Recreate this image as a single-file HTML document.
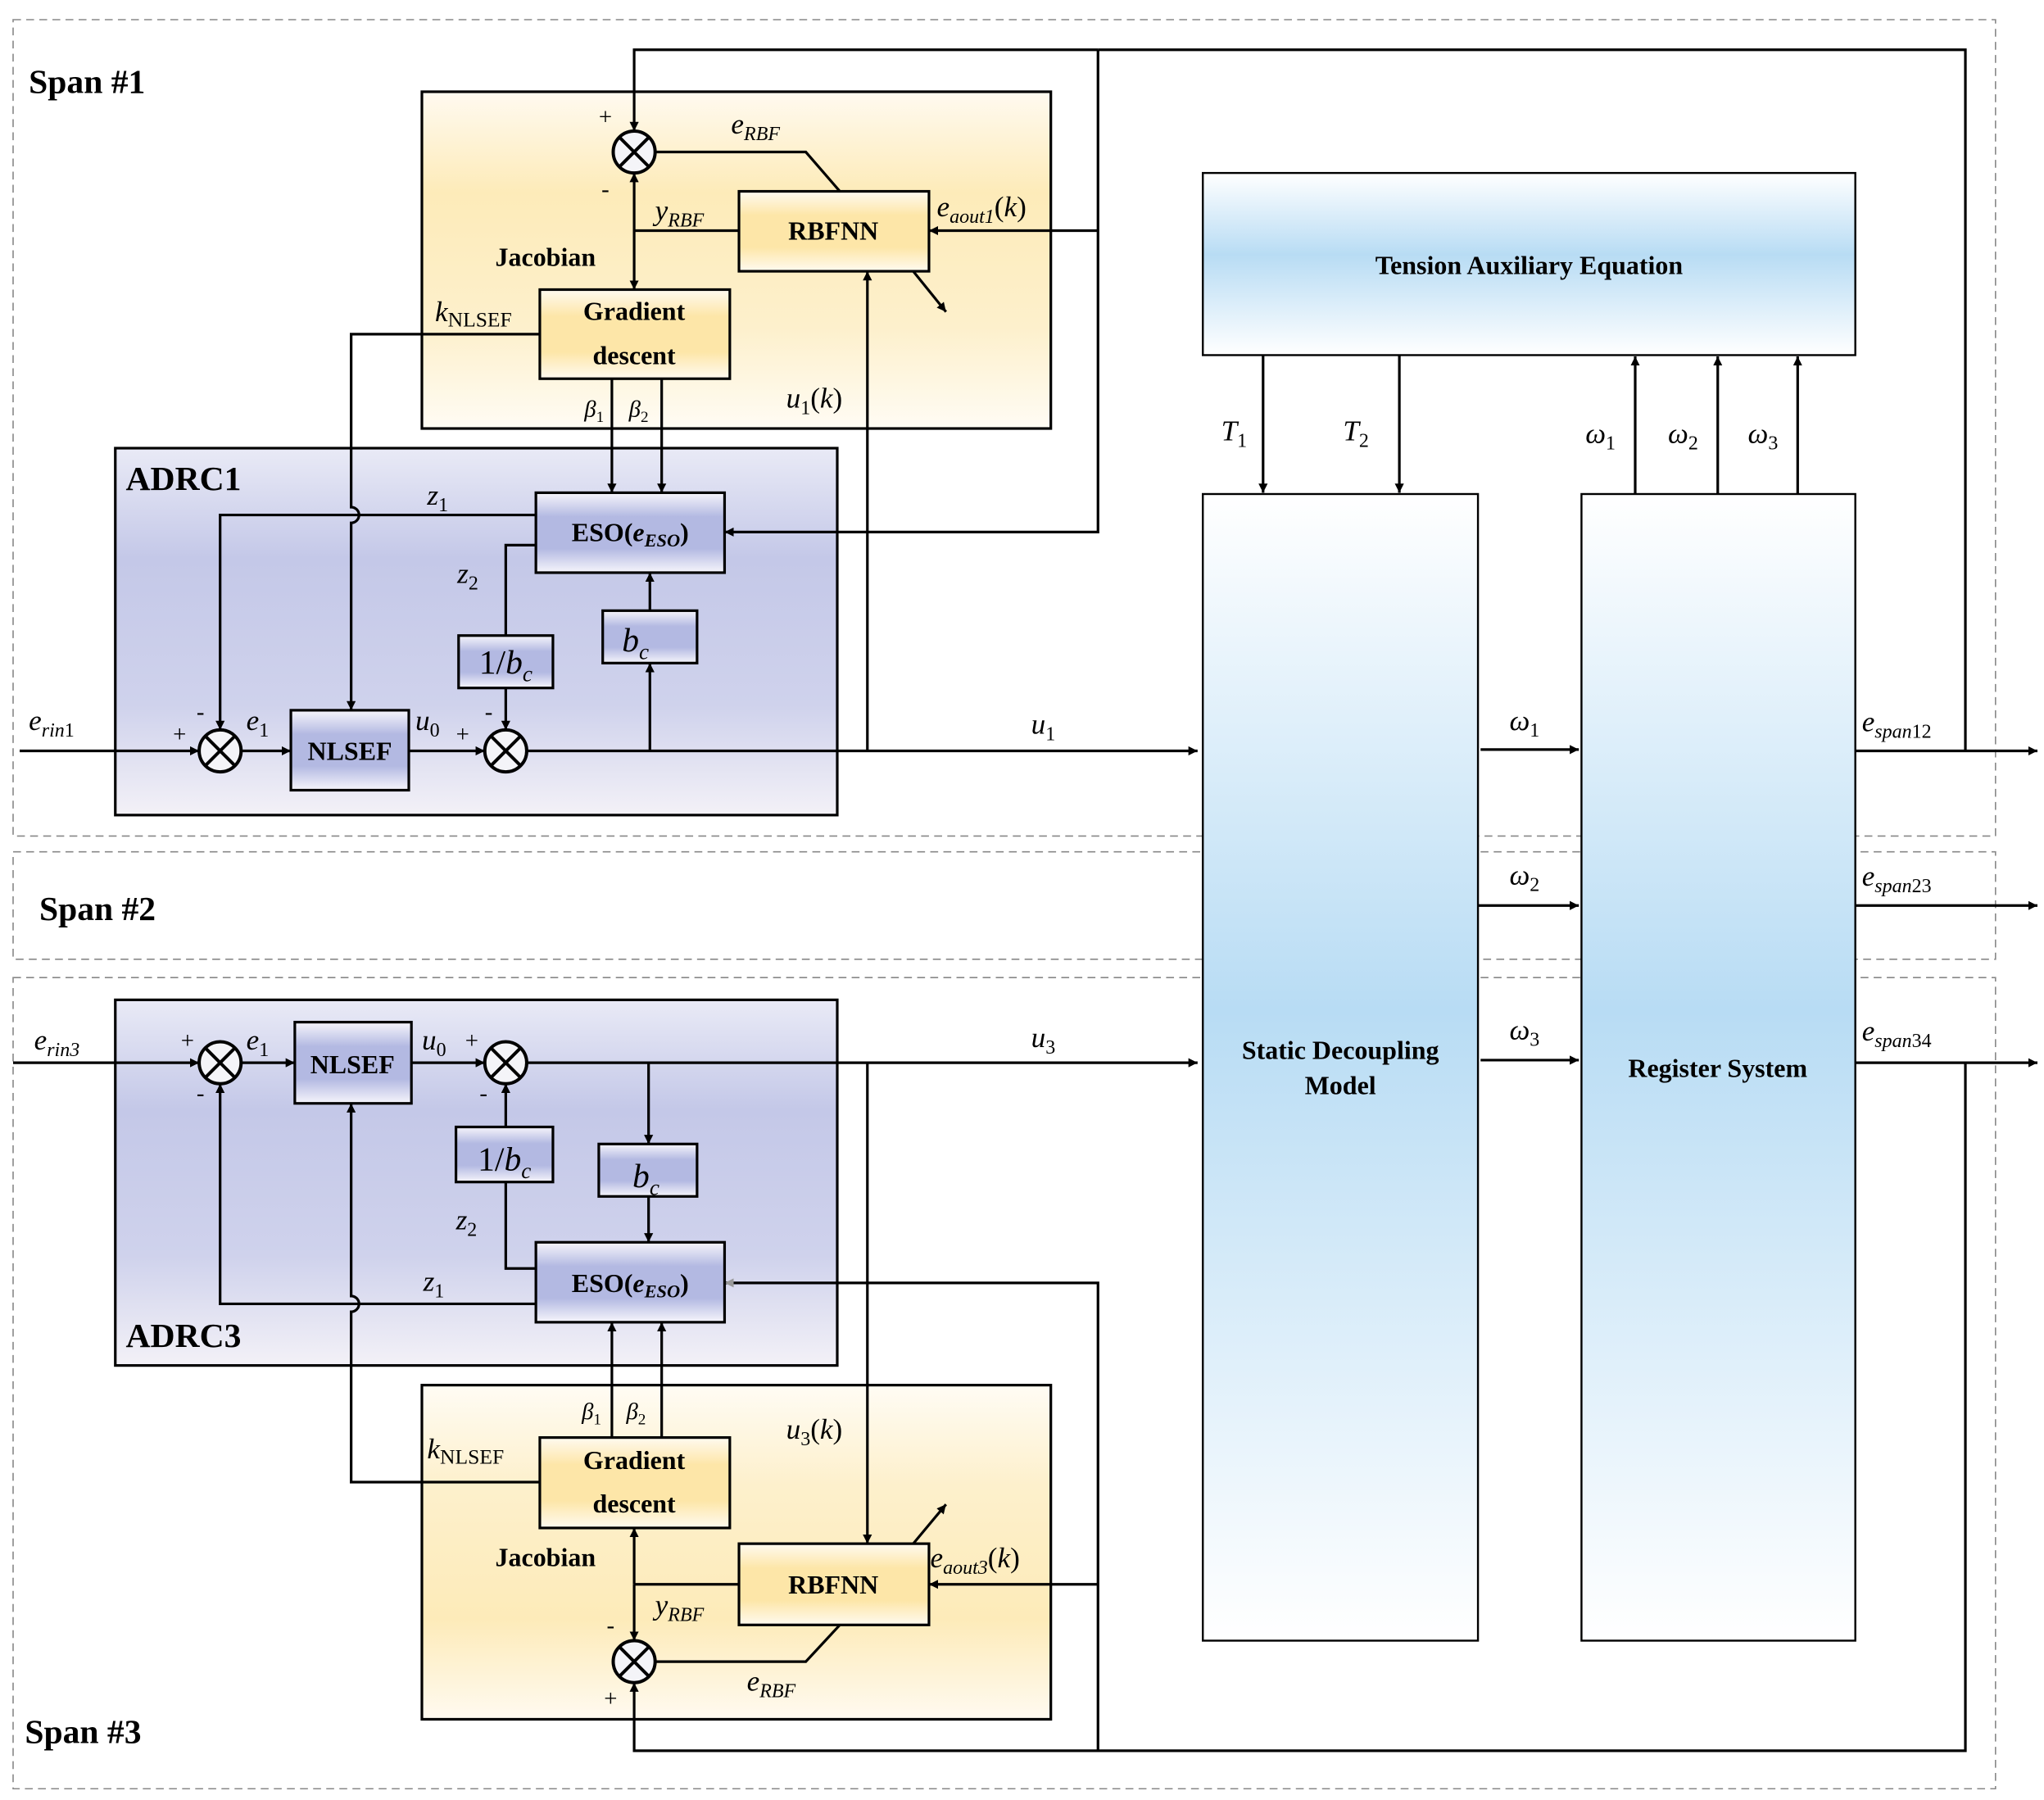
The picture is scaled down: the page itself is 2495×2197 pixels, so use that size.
<!DOCTYPE html>
<html><head><meta charset="utf-8"><style>
html,body{margin:0;padding:0;background:#fff}
svg{display:block}
text{font-family:"Liberation Serif",serif;fill:#000}
.b{font-weight:bold}
.i{font-style:italic}
</style></head><body>
<svg width="2495" height="2197" viewBox="0 0 1560 1373.6" preserveAspectRatio="none" xmlns="http://www.w3.org/2000/svg">
<defs>
<marker id="a" viewBox="0 0 10 10" refX="10" refY="5" markerWidth="7" markerHeight="7" orient="auto" markerUnits="userSpaceOnUse"><path d="M0,0L10,5L0,10z" fill="#000"/></marker>
<marker id="ag" viewBox="0 0 10 10" refX="10" refY="5" markerWidth="7" markerHeight="7" orient="auto" markerUnits="userSpaceOnUse"><path d="M0,0L10,5L0,10z" fill="#999"/></marker>
<linearGradient id="y1" x1="0" y1="0" x2="0" y2="1"><stop offset="0" stop-color="#fffaf0"/><stop offset="0.3" stop-color="#fdebb9"/><stop offset="0.7" stop-color="#fdf0cc"/><stop offset="1" stop-color="#fffcf4"/></linearGradient>
<linearGradient id="y2" x1="0" y1="1" x2="0" y2="0"><stop offset="0" stop-color="#fffaf0"/><stop offset="0.3" stop-color="#fdebb9"/><stop offset="0.7" stop-color="#fdf0cc"/><stop offset="1" stop-color="#fffcf4"/></linearGradient>
<linearGradient id="p1" x1="0" y1="0" x2="0" y2="1"><stop offset="0" stop-color="#e9eaf6"/><stop offset="0.3" stop-color="#c4c8e8"/><stop offset="0.7" stop-color="#cfd2ec"/><stop offset="1" stop-color="#f3f1f7"/></linearGradient>
<linearGradient id="p2" x1="0" y1="1" x2="0" y2="0"><stop offset="0" stop-color="#e9eaf6"/><stop offset="0.3" stop-color="#c4c8e8"/><stop offset="0.7" stop-color="#cfd2ec"/><stop offset="1" stop-color="#f3f1f7"/></linearGradient>
<linearGradient id="bb" x1="0" y1="0" x2="0" y2="1"><stop offset="0" stop-color="#f6f5fb"/><stop offset="0.3" stop-color="#b3b9e2"/><stop offset="0.7" stop-color="#b3b9e2"/><stop offset="1" stop-color="#f6f5fb"/></linearGradient>
<linearGradient id="yb" x1="0" y1="0" x2="0" y2="1"><stop offset="0" stop-color="#fffaf0"/><stop offset="0.3" stop-color="#fde6a8"/><stop offset="0.7" stop-color="#fde6a8"/><stop offset="1" stop-color="#fffaf0"/></linearGradient>
<linearGradient id="t" x1="0" y1="0" x2="0" y2="1"><stop offset="0" stop-color="#fff"/><stop offset="0.45" stop-color="#b8dcf4"/><stop offset="1" stop-color="#fff"/></linearGradient>
<linearGradient id="s" x1="0" y1="0" x2="0" y2="1"><stop offset="0" stop-color="#fff"/><stop offset="0.45" stop-color="#b8dcf4"/><stop offset="1" stop-color="#fff"/></linearGradient>
</defs>

<!-- dashed span boxes -->
<g fill="none" stroke="#888" stroke-width="1" stroke-dasharray="6,4">
<rect x="10" y="15" width="1513" height="623"/>
<rect x="10" y="650" width="1513" height="82"/>
<rect x="10" y="746" width="1513" height="619"/>
</g>

<!-- big containers -->
<g stroke="#000" stroke-width="2">
<rect x="322" y="70" width="480" height="257" fill="url(#y1)"/>
<rect x="88" y="342" width="551" height="280" fill="url(#p1)"/>
<rect x="88" y="763" width="551" height="279" fill="url(#p1)"/>
<rect x="322" y="1057" width="480" height="255" fill="url(#y2)"/>
<rect x="918" y="132" width="498" height="139" fill="url(#t)" stroke-width="1.5"/>
<rect x="918" y="377" width="210" height="875" fill="url(#s)" stroke-width="1.5"/>
<rect x="1207" y="377" width="209" height="875" fill="url(#s)" stroke-width="1.5"/>
</g>

<!-- lines -->
<g fill="none" stroke="#000" stroke-width="2">
<!-- span1 -->
<path d="M15,573H152" marker-end="url(#a)"/>
<path d="M184,573H222" marker-end="url(#a)"/>
<path d="M312,573H370" marker-end="url(#a)"/>
<path d="M402,573H914" marker-end="url(#a)"/>
<path d="M496,573V506" marker-end="url(#a)"/>
<path d="M496,466V437" marker-end="url(#a)"/>
<path d="M662,573V207" marker-end="url(#a)"/>
<path d="M409,393H168V557" marker-end="url(#a)"/>
<path d="M409,416H386V485"/>
<path d="M386,525V557" marker-end="url(#a)"/>
<path d="M412,255H268V387a6,6 0 0 1 0,12V542" marker-end="url(#a)"/>
<path d="M467,289V376" marker-end="url(#a)"/>
<path d="M505,289V376" marker-end="url(#a)"/>
<path d="M838,38H484V100" marker-end="url(#a)"/>
<path d="M838,38H1500V573"/>
<path d="M838,38V406H553" marker-end="url(#a)"/>
<path d="M838,176H709" marker-end="url(#a)"/>
<path d="M564,176H484"/>
<path d="M484,176V132" marker-end="url(#a)"/>
<path d="M484,176V221" marker-end="url(#a)"/>
<path d="M500,116H615L641,146"/>
<path d="M697,207L722,238" marker-end="url(#a)"/>
<!-- right side -->
<path d="M1416,573H1555" marker-end="url(#a)"/>
<path d="M1416,691H1555" marker-end="url(#a)"/>
<path d="M1416,811H1555" marker-end="url(#a)"/>
<path d="M1130,572H1205" marker-end="url(#a)"/>
<path d="M1128,691H1205" marker-end="url(#a)"/>
<path d="M1130,809H1205" marker-end="url(#a)"/>
<path d="M964,271V376" marker-end="url(#a)"/>
<path d="M1068,271V376" marker-end="url(#a)"/>
<path d="M1248,377V272" marker-end="url(#a)"/>
<path d="M1311,377V272" marker-end="url(#a)"/>
<path d="M1372,377V272" marker-end="url(#a)"/>
<!-- span3 -->
<path d="M10,811H152" marker-end="url(#a)"/>
<path d="M184,811H225" marker-end="url(#a)"/>
<path d="M314,811H370" marker-end="url(#a)"/>
<path d="M402,811H914" marker-end="url(#a)"/>
<path d="M495,811V873" marker-end="url(#a)"/>
<path d="M495,913V948" marker-end="url(#a)"/>
<path d="M409,968H386V902"/>
<path d="M386,860V827" marker-end="url(#a)"/>
<path d="M409,995H168V827" marker-end="url(#a)"/>
<path d="M412,1131H268V1001a6,6 0 0 0 0,-12V842" marker-end="url(#a)"/>
<path d="M467,1097V1009" marker-end="url(#a)"/>
<path d="M505,1097V1009" marker-end="url(#a)"/>
<path d="M662,811V1178" marker-end="url(#a)"/>
<path d="M564,1209H484"/>
<path d="M484,1209V1166" marker-end="url(#a)"/>
<path d="M484,1209V1252" marker-end="url(#a)"/>
<path d="M500,1268H615L641,1240"/>
<path d="M697,1178L722,1148" marker-end="url(#a)"/>
<path d="M1500,811V1336H484V1284" marker-end="url(#a)"/>
<path d="M838,1336V979H553" marker-end="url(#ag)"/>
<path d="M838,1209H709" marker-end="url(#a)"/>
</g>

<!-- small boxes -->
<g stroke="#000" stroke-width="2">
<rect x="564" y="146" width="145" height="61" fill="url(#yb)"/>
<rect x="412" y="221" width="145" height="68" fill="url(#yb)"/>
<rect x="409" y="376" width="144" height="61" fill="url(#bb)"/>
<rect x="460" y="466" width="72" height="40" fill="url(#bb)"/>
<rect x="350" y="485" width="72" height="40" fill="url(#bb)"/>
<rect x="222" y="542" width="90" height="61" fill="url(#bb)"/>
<rect x="225" y="780" width="89" height="62" fill="url(#bb)"/>
<rect x="457" y="873" width="75" height="40" fill="url(#bb)"/>
<rect x="348" y="860" width="74" height="42" fill="url(#bb)"/>
<rect x="409" y="948" width="144" height="61" fill="url(#bb)"/>
<rect x="412" y="1097" width="145" height="69" fill="url(#yb)"/>
<rect x="564" y="1178" width="145" height="62" fill="url(#yb)"/>
</g>

<!-- sum circles -->
<g stroke="#000" stroke-width="2.5" fill="#f4f4f8">
<g transform="translate(484,116)"><circle r="16"/><path d="M-11,-11L11,11M11,-11L-11,11"/></g>
<g transform="translate(168,573)"><circle r="16"/><path d="M-11,-11L11,11M11,-11L-11,11"/></g>
<g transform="translate(386,573)"><circle r="16"/><path d="M-11,-11L11,11M11,-11L-11,11"/></g>
<g transform="translate(168,811)"><circle r="16"/><path d="M-11,-11L11,11M11,-11L-11,11"/></g>
<g transform="translate(386,811)"><circle r="16"/><path d="M-11,-11L11,11M11,-11L-11,11"/></g>
<g transform="translate(484,1268)"><circle r="16"/><path d="M-11,-11L11,11M11,-11L-11,11"/></g>
</g>

<!-- text -->
<g font-size="20">
<text x="22" y="71" class="b" font-size="26">Span #1</text>
<text x="30" y="702" class="b" font-size="26">Span #2</text>
<text x="19" y="1330" class="b" font-size="26">Span #3</text>
<text x="96" y="374" class="b" font-size="26">ADRC1</text>
<text x="96" y="1028" class="b" font-size="26">ADRC3</text>
<text x="636" y="183" class="b" text-anchor="middle">RBFNN</text>
<text x="484" y="244" class="b" text-anchor="middle">Gradient</text>
<text x="484" y="278" class="b" text-anchor="middle">descent</text>
<text x="378" y="203" class="b">Jacobian</text>
<text x="481" y="413" class="b" text-anchor="middle">ESO(<tspan class="i">e<tspan font-size="14" dy="4">ESO</tspan></tspan><tspan dy="-4">)</tspan></text>
<text x="267" y="580" class="b" text-anchor="middle">NLSEF</text>
<text x="269" y="819" class="b" text-anchor="middle">NLSEF</text>
<text x="481" y="986" class="b" text-anchor="middle">ESO(<tspan class="i">e<tspan font-size="14" dy="4">ESO</tspan></tspan><tspan dy="-4">)</tspan></text>
<text x="484" y="1121" class="b" text-anchor="middle">Gradient</text>
<text x="484" y="1154" class="b" text-anchor="middle">descent</text>
<text x="378" y="1195" class="b">Jacobian</text>
<text x="636" y="1216" class="b" text-anchor="middle">RBFNN</text>
<text x="1167" y="209" class="b" text-anchor="middle">Tension Auxiliary Equation</text>
<text x="1023" y="808" class="b" text-anchor="middle">Static Decoupling</text>
<text x="1023" y="835" class="b" text-anchor="middle">Model</text>
<text x="1311" y="822" class="b" text-anchor="middle">Register System</text>

<g font-size="26">
<text x="485" y="497" class="i" text-anchor="middle">b<tspan font-size="17" dy="6">c</tspan></text>
<text x="386" y="514" text-anchor="middle">1/<tspan class="i">b</tspan><tspan class="i" font-size="17" dy="6">c</tspan></text>
<text x="493" y="906" class="i" text-anchor="middle">b<tspan font-size="17" dy="6">c</tspan></text>
<text x="385" y="893" text-anchor="middle">1/<tspan class="i">b</tspan><tspan class="i" font-size="17" dy="6">c</tspan></text>
</g>

<g font-size="22">
<text x="558" y="102" class="i">e<tspan font-size="15" dy="5">RBF</tspan></text>
<text x="500" y="168" class="i">y<tspan font-size="15" dy="5">RBF</tspan></text>
<text x="715" y="165" class="i">e<tspan font-size="15" dy="5">aout1</tspan><tspan dy="-5" font-style="normal">(</tspan>k<tspan font-style="normal">)</tspan></text>
<text x="332" y="245" class="i">k<tspan font-style="normal" font-size="16" dy="4">NLSEF</tspan></text>
<text x="600" y="311" class="i">u<tspan font-style="normal" font-size="15" dy="5">1</tspan><tspan dy="-5" font-style="normal">(</tspan>k<tspan font-style="normal">)</tspan></text>
<text x="446" y="318" class="i" font-size="18">β<tspan font-size="12" dy="4" font-style="normal">1</tspan></text>
<text x="480" y="318" class="i" font-size="18">β<tspan font-size="12" dy="4" font-style="normal">2</tspan></text>
<text x="326" y="385" class="i">z<tspan font-size="15" dy="5" font-style="normal">1</tspan></text>
<text x="349" y="445" class="i">z<tspan font-size="15" dy="5" font-style="normal">2</tspan></text>
<text x="22" y="557" class="i">e<tspan font-size="15" dy="5">rin</tspan><tspan font-size="15" font-style="normal">1</tspan></text>
<text x="188" y="557" class="i">e<tspan font-size="15" dy="5" font-style="normal">1</tspan></text>
<text x="317" y="557" class="i">u<tspan font-size="15" dy="5" font-style="normal">0</tspan></text>
<text x="787" y="560" class="i">u<tspan font-size="15" dy="5" font-style="normal">1</tspan></text>
<text x="26" y="801" class="i">e<tspan font-size="15" dy="5">rin3</tspan></text>
<text x="188" y="801" class="i">e<tspan font-size="15" dy="5" font-style="normal">1</tspan></text>
<text x="322" y="801" class="i">u<tspan font-size="15" dy="5" font-style="normal">0</tspan></text>
<text x="787" y="799" class="i">u<tspan font-size="15" dy="5" font-style="normal">3</tspan></text>
<text x="348" y="938" class="i">z<tspan font-size="15" dy="5" font-style="normal">2</tspan></text>
<text x="323" y="985" class="i">z<tspan font-size="15" dy="5" font-style="normal">1</tspan></text>
<text x="444" y="1083" class="i" font-size="18">β<tspan font-size="12" dy="4" font-style="normal">1</tspan></text>
<text x="478" y="1083" class="i" font-size="18">β<tspan font-size="12" dy="4" font-style="normal">2</tspan></text>
<text x="600" y="1098" class="i">u<tspan font-style="normal" font-size="15" dy="5">3</tspan><tspan dy="-5" font-style="normal">(</tspan>k<tspan font-style="normal">)</tspan></text>
<text x="326" y="1113" class="i">k<tspan font-style="normal" font-size="16" dy="4">NLSEF</tspan></text>
<text x="710" y="1196" class="i">e<tspan font-size="15" dy="5">aout3</tspan><tspan dy="-5" font-style="normal">(</tspan>k<tspan font-style="normal">)</tspan></text>
<text x="500" y="1232" class="i">y<tspan font-size="15" dy="5">RBF</tspan></text>
<text x="570" y="1290" class="i">e<tspan font-size="15" dy="5">RBF</tspan></text>
<text x="932" y="336" class="i">T<tspan font-size="15" dy="5" font-style="normal">1</tspan></text>
<text x="1025" y="336" class="i">T<tspan font-size="15" dy="5" font-style="normal">2</tspan></text>
<text x="1210" y="338" class="i">ω<tspan font-size="15" dy="5" font-style="normal">1</tspan></text>
<text x="1273" y="338" class="i">ω<tspan font-size="15" dy="5" font-style="normal">2</tspan></text>
<text x="1334" y="338" class="i">ω<tspan font-size="15" dy="5" font-style="normal">3</tspan></text>
<text x="1152" y="557" class="i">ω<tspan font-size="15" dy="5" font-style="normal">1</tspan></text>
<text x="1152" y="675" class="i">ω<tspan font-size="15" dy="5" font-style="normal">2</tspan></text>
<text x="1152" y="793" class="i">ω<tspan font-size="15" dy="5" font-style="normal">3</tspan></text>
<text x="1421" y="558" class="i">e<tspan font-size="15" dy="5">span</tspan><tspan font-size="15" font-style="normal">12</tspan></text>
<text x="1421" y="676" class="i">e<tspan font-size="15" dy="5">span</tspan><tspan font-size="15" font-style="normal">23</tspan></text>
<text x="1421" y="794" class="i">e<tspan font-size="15" dy="5">span</tspan><tspan font-size="15" font-style="normal">34</tspan></text>
</g>

<g font-size="18">
<text x="457" y="95">+</text><text x="459" y="150">-</text>
<text x="132" y="566">+</text><text x="150" y="549">-</text>
<text x="348" y="566">+</text><text x="370" y="549">-</text>
<text x="138" y="800">+</text><text x="150" y="840">-</text>
<text x="355" y="800">+</text><text x="366" y="840">-</text>
<text x="463" y="1246">-</text><text x="461" y="1302">+</text>
</g>
</g>
</svg>
</body></html>
